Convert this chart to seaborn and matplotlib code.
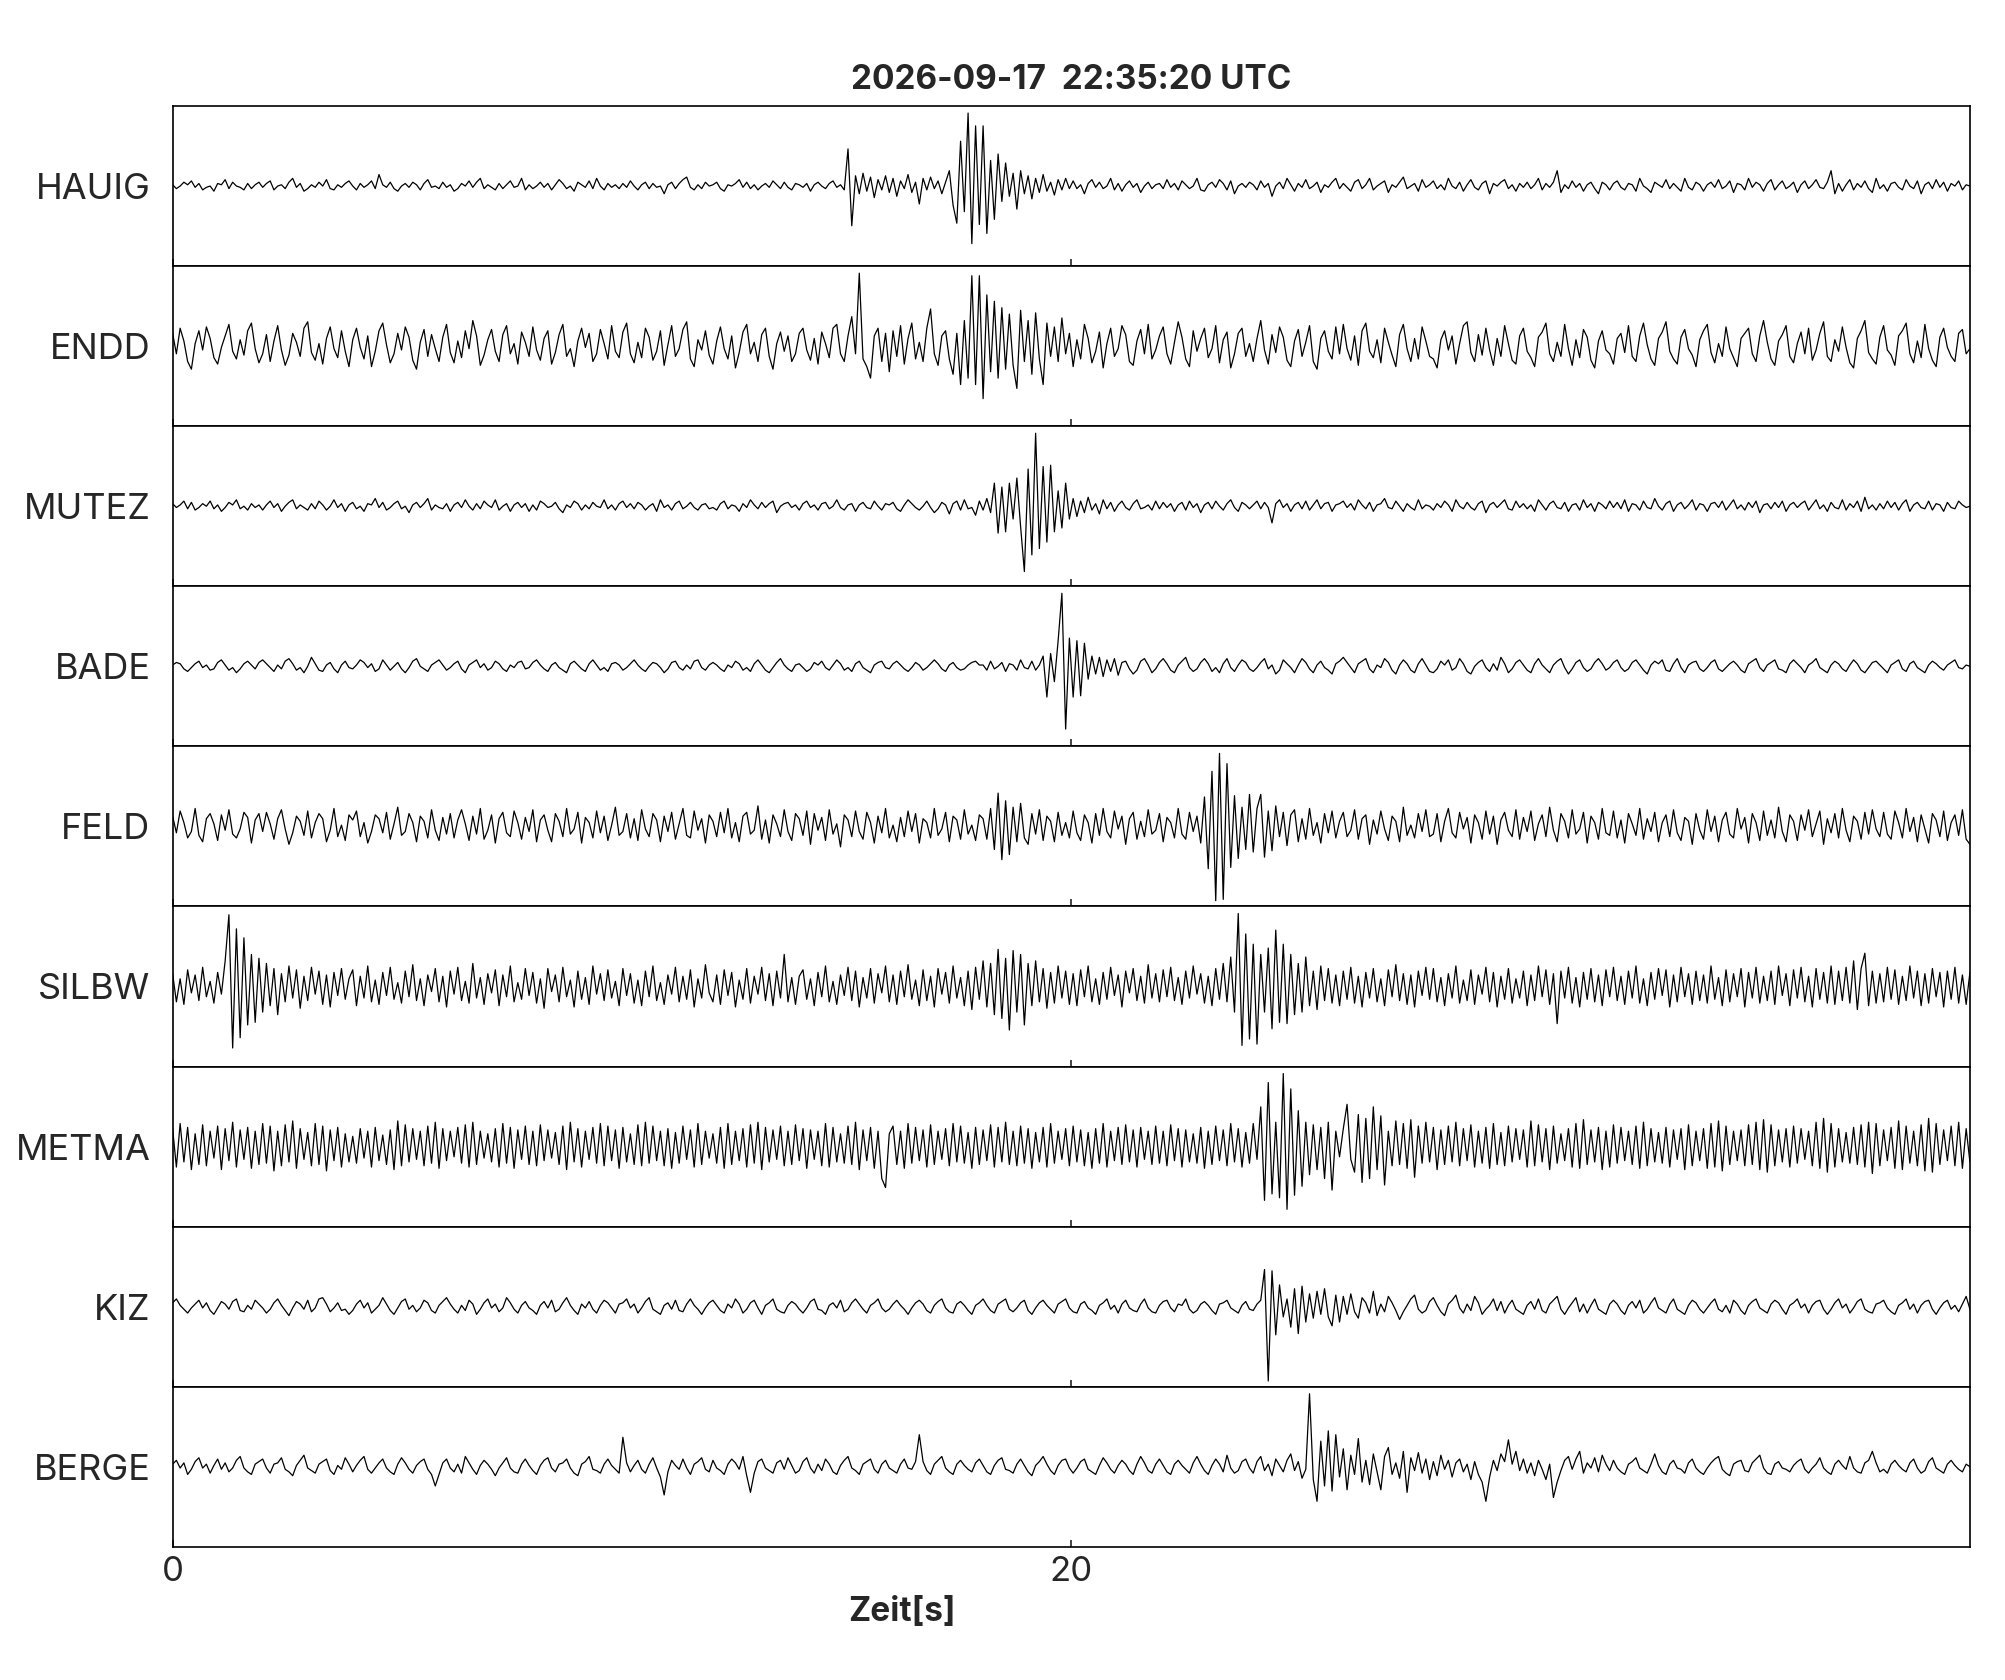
import numpy as np
import pandas as pd
import matplotlib
matplotlib.use("Agg")
import matplotlib.pyplot as plt
import seaborn as sns

# Stationen von oben nach unten
stations = ["HAUIG", "ENDD", "MUTEZ", "BADE", "FELD", "SILBW", "METMA", "KIZ", "BERGE"]
title_txt = "2026-09-17  22:35:20 UTC"
t_end = 40.0
xtick_vals = [0, 20]

# Amplituden (Pixel relativ zur Nulllinie, 12 Werte/s, eine Zeile = 2 s)
hauig = [
    1,-2,0,3,1,4,-1,2,-3,-1,0,-4,2,1,5,-2,3,0,-1,-3,2,-2,1,3,
    -1,2,4,-3,0,1,-2,3,6,-1,2,-4,-2,1,-1,3,0,5,-2,-3,1,-1,2,4,
    0,-3,2,-1,1,4,-2,9,1,-1,3,-2,-4,0,2,-1,3,1,-3,2,5,-1,0,-2,
    3,-1,1,-4,-2,2,0,4,-1,3,6,-2,1,-1,-3,2,-2,1,4,-1,0,6,-3,1,
    -2,0,3,-1,2,-3,1,5,2,-2,0,-4,3,1,-1,4,-2,6,0,-3,2,-1,1,-2,
    2,-1,4,0,-3,1,3,-2,2,-1,0,-6,1,3,-2,2,5,7,-1,-3,1,-2,3,0,
    1,3,-2,-4,1,0,2,5,-1,3,-2,1,-3,0,2,-1,4,1,-2,3,-1,-3,2,1,
    -1,2,-4,1,3,0,-2,2,4,-1,1,-3,29,-31,8,-6,10,-4,7,-9,5,-3,8,-5,
    6,-8,4,-2,9,-5,3,-14,6,-3,7,-2,4,-6,3,12,-15,-29,35,-20,57,-45,47,-30,
    47,-37,20,-26,25,-12,18,-8,10,-18,12,-6,8,-10,6,-5,9,-4,3,-7,5,-3,6,-2,
    4,-2,1,-6,2,5,-1,3,-2,0,6,-3,2,-4,1,4,-1,2,-5,0,3,-2,1,2,
    -2,5,-1,2,-3,4,1,-2,0,6,-3,-4,1,3,-1,5,2,-3,4,-6,0,2,-1,3,
    1,-3,4,-1,2,-8,0,3,-2,6,1,-4,2,-1,5,-2,0,3,-5,1,-1,3,6,-2,
    2,-1,-4,3,5,-2,1,6,-3,0,2,4,-5,1,-1,3,7,-2,0,2,-4,5,-1,1,
    4,-2,1,-3,6,0,-2,3,-4,1,5,-1,-3,2,4,-6,2,0,3,5,-2,1,-4,2,
    -1,3,-2,1,6,-3,2,-1,3,12,-5,1,-2,4,-1,2,-4,1,3,-2,-6,3,1,-3,
    2,4,-1,-3,2,1,-4,6,0,-2,-5,3,1,-1,5,-2,2,-1,-4,6,-1,-3,3,1,
    -4,1,3,-1,5,-2,0,4,-5,2,1,-3,6,-1,3,1,-4,2,5,-3,1,4,-2,0,
    3,-5,1,4,-2,1,5,-1,-2,3,12,-6,2,-4,1,5,-3,2,-1,4,-2,-5,6,-2,
    1,-4,2,3,-1,-3,5,0,-2,4,-6,1,3,-2,5,-1,3,-4,2,0,4,-3,1,0,
]
endd = [
    10,-6,14,4,-12,-18,2,12,-3,15,6,-9,-14,-1,8,17,-4,-10,5,-7,12,18,-2,-13,
    -6,9,-12,4,16,-3,-15,-7,10,3,-8,14,19,-5,-11,2,-14,6,15,-2,-9,12,-4,-16,
    5,14,-1,-10,8,-16,-4,12,18,1,-13,-6,10,-3,15,7,-11,-18,3,13,-8,9,-2,-12,
    7,17,-5,-13,4,-9,12,-2,20,8,-15,-7,5,13,-4,-12,9,16,-6,2,-14,11,3,-8,
    15,-3,-11,6,12,-14,-5,9,17,-8,-2,-16,4,14,-1,10,-12,-6,13,2,-10,16,-4,-9,
    11,18,-6,-13,3,-9,14,7,-11,-4,12,-15,1,16,-8,-2,13,19,-10,-16,5,-3,12,-7,
    -14,4,15,-2,-10,8,-17,-5,11,17,-6,3,-12,9,14,-8,-18,2,11,-4,8,-12,-6,10,
    14,-3,-11,6,-14,11,2,-9,14,17,-6,-12,8,23,-6,57,-10,-16,-25,8,14,-12,10,-20,
    12,-8,16,-14,6,18,-10,3,-12,14,29,-6,-15,8,12,-10,-22,10,-30,20,-25,55,-30,55,
    -41,40,-20,35,-25,30,-18,25,-15,-33,28,-12,20,-22,26,-10,-30,18,-8,15,-12,22,-6,10,
    -16,5,-10,17,6,-13,-4,11,-17,2,14,-8,-2,16,9,-12,-15,4,13,-6,17,-10,-3,8,
    15,-6,-14,3,19,7,-10,-16,12,-4,6,14,-9,-2,16,-13,5,11,-17,-6,10,14,-8,2,
    -12,6,20,-3,-14,9,-5,15,7,-11,-16,4,13,-8,3,16,-12,-18,6,12,-4,-10,15,-6,
    17,-2,-11,8,-15,12,18,-4,-9,5,-13,14,3,-7,-16,9,17,-2,-12,6,-10,15,4,-8,
    -10,-17,5,12,-3,8,-14,2,16,19,-5,-12,9,-7,14,-3,-15,6,-8,16,2,-11,-14,8,
    14,-4,-9,-16,7,11,18,-6,-12,3,-8,17,-2,-15,5,-9,13,7,-11,-17,4,12,-3,-6,
    -14,6,10,-5,16,-8,-12,8,18,1,-10,-15,6,11,19,-4,-10,-14,7,13,-2,-7,-16,5,
    12,17,-5,-13,2,-8,15,-2,-9,-16,6,10,14,-6,-12,8,20,3,-10,-15,4,9,16,-8,
    -13,2,11,-6,14,-11,-3,10,19,-8,-12,5,-4,15,-1,-13,-17,6,12,20,-5,-10,-14,7,
    16,-3,-7,-15,8,12,18,-6,-13,4,-9,17,-2,-11,-16,7,14,-1,-8,-12,10,13,-6,-2,
]
mutez = [
    2,-1,1,4,-2,3,-3,-1,2,0,4,-2,1,-4,-1,3,1,5,-2,0,-3,2,-1,1,
    -3,1,4,-1,2,-4,0,3,5,-2,1,-1,-3,2,-2,4,1,-3,0,5,-1,2,-4,1,
    3,-2,0,-4,2,1,6,-1,3,-3,-1,2,4,-2,0,-5,1,3,-1,2,6,-3,1,-1,
    -2,2,-4,1,3,-1,5,0,-3,2,-2,4,1,-1,5,-3,0,2,-4,1,3,-1,2,-4,
    1,-3,4,2,-1,0,3,-2,-5,1,-1,4,2,-3,1,-2,3,0,-1,5,-2,1,-3,2,
    4,-1,2,-2,3,1,-3,0,2,-4,5,-1,1,-3,2,4,-2,0,3,-1,-3,1,2,-2,
    -1,-3,2,4,-2,1,0,-4,2,-1,5,1,-2,3,-1,2,4,-5,0,2,3,-1,1,-3,
    2,4,-1,1,-3,2,3,-2,0,5,-1,-3,1,2,-4,1,3,-1,-2,4,0,-3,2,1,
    3,-2,-4,1,5,2,-1,-3,0,4,-1,-5,-2,3,1,-6,2,4,-3,5,-2,-1,-7,4,
    -3,6,-5,18,-21,15,-20,18,-10,22,-16,-51,29,-38,57,-33,31,-28,32,-20,12,-17,18,-10,
    6,-8,4,-5,7,-3,2,-6,5,-2,3,-4,1,4,-1,-3,2,5,-2,-1,1,-3,4,-2,
    3,-1,2,-4,1,3,-3,4,-1,2,-5,1,3,-2,4,0,-3,2,5,-1,-4,3,1,-2,
    1,4,-2,3,-1,-13,2,5,-1,2,-4,1,3,-2,4,-3,1,5,-2,2,3,-4,1,2,
    4,-1,2,-3,5,1,-2,3,-4,1,2,6,-1,-2,4,0,-4,2,-1,-3,5,-2,1,0,
    -3,2,-1,4,1,-4,5,0,-2,3,-1,-3,2,4,-5,1,3,-1,2,5,-2,-3,4,-1,
    2,-2,1,-4,5,1,-3,2,4,-1,-2,3,-4,1,2,-3,5,-1,2,-4,3,1,-2,4,
    -1,3,-2,5,-4,2,1,-3,4,-1,-2,6,0,-3,2,4,-4,1,3,-2,1,5,-3,2,
    1,-4,2,3,-1,4,-3,1,5,-2,1,-3,3,-1,4,-5,1,2,-2,3,-1,4,-4,1,
    3,-1,2,4,-3,1,5,-2,1,-4,3,-1,-2,5,-3,2,-1,4,-4,7,-2,1,-3,2,
    -2,4,-1,3,-3,2,5,-4,1,3,-1,-2,4,-3,2,1,-4,3,-1,-2,4,1,-1,0,
]
bade = [
    1,3,2,-2,-4,-1,2,4,-1,1,-3,-2,3,5,1,-3,-1,-5,-2,2,4,1,-2,3,
    5,2,-1,-4,1,-2,4,6,2,-3,-1,-5,0,7,2,-3,-4,1,3,-2,-5,1,4,-1,
    -2,1,5,3,-1,2,-4,-2,5,1,-3,0,3,-2,-5,-1,4,6,0,-2,-4,1,3,5,
    1,-3,-1,2,4,-2,-5,1,3,5,-1,2,-3,-1,4,2,-2,-4,1,-1,3,4,-2,-1,
    3,5,1,-2,-4,1,3,-1,-3,-5,2,4,1,-2,-4,2,5,1,-3,-1,-4,2,3,1,
    -3,-1,2,5,1,-2,-4,0,3,2,-1,-5,-2,3,4,-1,-3,1,-2,4,5,-1,-3,1,
    3,1,-2,-4,1,-1,4,2,-3,-1,-4,2,5,1,-3,-5,-1,3,6,1,-2,-4,1,2,
    -1,-4,-2,3,1,4,-1,-3,1,5,2,-3,-1,-4,2,4,-1,-3,-5,1,3,4,-1,-2,
    2,4,1,-2,-4,-1,3,1,-3,-1,2,5,2,-2,-4,1,3,-1,-3,-2,1,3,4,1,
    1,-3,4,-2,0,3,-4,2,1,-3,5,-1,-2,4,-3,1,8,-24,10,-12,20,57,-49,22,
    -24,20,-23,18,-10,8,-6,7,-8,5,-4,6,-7,3,4,-2,-6,-3,4,6,1,-5,-2,3,
    6,2,-3,-5,1,4,7,-1,-4,-2,3,6,2,-4,-1,-5,2,6,-1,-4,1,5,3,-2,
    -4,-1,3,6,-2,1,-6,-3,5,2,-1,-5,1,6,3,-2,-5,1,4,-1,-3,-6,2,4,
    7,3,-1,-5,2,4,6,-2,-5,1,-1,6,3,-3,-6,1,5,2,-3,-5,2,6,1,-4,
    -5,-2,4,1,5,-3,-1,6,2,-4,-6,0,3,5,-1,-4,2,-3,7,2,-5,-2,3,5,
    1,-3,-5,2,6,1,-2,-5,1,4,6,-1,-6,-2,3,5,-1,-4,-2,3,6,2,-3,-1,
    3,5,-1,-4,-2,3,5,1,-3,-6,1,4,2,5,-3,-4,2,6,-1,-5,1,3,4,-2,
    -4,-1,3,5,-2,-4,-1,2,4,1,-3,-5,2,4,6,-1,-4,1,3,5,-2,-3,-5,2,
    5,2,-1,-5,1,3,6,-1,-3,-5,1,4,2,-2,-4,1,5,2,-3,-5,-1,3,4,1,
    -2,-5,1,3,5,-2,-4,2,4,-1,-3,-5,1,4,2,-1,-3,1,3,5,-1,-2,1,0,
]
feld = [
    8,-5,12,3,-9,-4,14,-7,-12,6,10,2,-11,9,-3,13,-6,-9,-2,11,7,-13,5,10,
    -4,11,2,-10,6,13,-2,-14,-5,8,4,-7,12,-9,3,10,6,-12,-3,14,-8,1,-11,9,
    5,12,-8,3,-13,-4,9,6,-5,11,-10,2,15,-7,-4,10,3,-12,8,4,-9,13,-3,-11,
    7,-6,10,-9,5,13,2,-11,8,-6,14,-10,-3,9,-13,6,11,-5,-8,12,3,-10,7,-4,
    13,-12,5,9,-3,-12,10,4,-8,14,-6,-2,11,-13,7,3,-9,12,-5,8,-11,1,15,-7,
    -4,10,-9,6,-11,13,-2,-8,10,5,-12,8,-4,11,-10,2,14,-7,-9,12,-3,6,-13,9,
    4,-8,11,-5,14,-9,3,-12,8,11,-6,-3,16,-10,5,-13,9,2,-8,13,-4,-11,10,6,
    -7,12,-14,10,-3,7,-11,13,-6,2,-16,9,5,-8,12,-4,-10,11,3,-13,8,-5,14,-9,
    1,-12,7,-8,12,-4,10,-13,6,3,-9,14,-7,-2,11,-12,8,5,-10,13,-6,1,-11,9,
    6,-10,14,-18,26,-26,20,-22,15,-12,18,-9,-14,10,-6,13,-11,8,4,-12,11,-7,3,-9,
    12,-5,-11,9,3,-13,10,-7,14,-4,-9,12,-2,8,-14,6,11,-10,4,-8,13,-6,-3,10,
    -12,7,3,-9,14,-6,-10,11,-4,8,-13,23,-33,43,-58,57,-57,49,-32,24,-25,15,-18,25,
    -20,14,25,-24,12,-19,16,-8,11,-15,9,13,-12,6,-10,14,-7,3,-13,10,-5,12,-9,4,
    11,-8,-3,13,-10,6,9,-14,5,-6,12,-2,-11,8,4,-12,15,-7,1,-9,10,-4,13,-8,
    -6,10,-12,4,14,-5,-9,11,-2,7,-13,9,3,-10,12,-6,8,-14,5,11,-3,-8,13,-10,
    7,-4,12,-11,2,9,-8,15,-3,-12,10,4,-9,13,-6,-2,11,-13,8,3,-10,14,-5,-7,
    12,-9,5,-13,10,2,-7,14,-10,6,-4,11,-12,3,9,-8,13,-5,-11,7,4,-14,10,-3,
    -10,13,-4,8,-12,5,11,-6,-9,14,-2,7,-13,10,3,-11,12,-7,5,-9,15,-4,-12,9,
    4,-11,9,-3,13,-8,2,12,-14,6,-5,10,-9,14,-3,-12,8,4,-10,11,-6,13,-2,-8,
    11,-6,-10,12,3,-9,14,-4,7,-12,9,-2,-13,10,5,-8,12,-11,3,9,-7,13,-10,-14,
]
silbw = [
    10,-12,6,-14,13,-5,9,-11,15,-8,4,-13,11,-6,20,56,-48,45,-40,38,-30,25,-28,22,
    -20,18,-15,14,-22,10,-12,16,-9,13,-17,8,-11,15,-6,12,-14,9,-16,11,-7,14,-10,6,
    13,-15,8,-9,16,-12,5,-14,11,-7,15,-10,3,-13,12,-8,17,-11,6,-15,9,-4,14,-12,
    8,-16,12,-6,15,-11,4,-13,18,-9,7,-14,10,-5,13,-15,9,-8,16,-12,3,-10,14,-7,
    11,-13,6,-17,14,-4,9,-12,15,-8,5,-16,12,-10,7,-14,16,-6,10,-11,13,-9,4,-15,
    14,-7,10,-13,5,-15,12,-8,16,-11,3,-14,9,-6,15,-12,8,-10,13,-16,6,-9,17,-5,
    -12,9,-14,13,-7,11,-16,5,-10,14,-13,8,-6,15,-11,10,-15,12,-9,25,-12,7,-14,8,
    13,-10,6,-15,11,-8,16,-12,4,-14,9,-7,15,-11,12,-16,7,-9,14,-13,10,-5,16,-12,
    9,-14,12,-8,17,-10,5,-15,13,-11,8,-16,14,-6,11,-13,16,-9,7,-15,12,-18,15,-10,
    20,-16,18,-22,29,-25,22,-34,28,-20,25,-30,18,-15,20,-12,14,-17,11,-13,16,-9,12,-14,
    10,-15,13,-8,16,-12,6,-14,11,-10,15,-7,9,-16,12,-5,14,-11,8,-13,17,-9,10,-12,
    13,-8,15,-11,7,-14,12,-9,16,-6,10,-13,8,-15,14,-10,18,-12,23,-20,57,-46,41,-41,
    33,-45,25,-20,30,-33,44,-28,33,-29,25,-22,18,-20,23,-15,12,-18,16,-11,14,-13,9,-15,
    12,-10,15,-13,8,-16,11,-9,14,-12,6,-15,13,-8,17,-11,10,-14,9,-16,12,-7,15,-10,
    14,-12,7,-15,10,-9,16,-13,5,-11,13,-14,9,-6,15,-12,11,-16,8,-10,14,-13,6,-9,
    12,-15,9,-11,16,-8,13,-14,10,-29,12,-9,15,-13,7,-16,11,-10,14,-12,9,-15,13,-8,
    15,-11,8,-14,12,-9,16,-13,6,-15,11,-10,14,-7,13,-16,9,-12,15,-8,10,-14,12,-11,
    9,-13,16,-10,7,-15,13,-12,10,-8,14,-16,11,-9,15,-13,8,-11,12,-14,16,-7,10,-15,
    13,-9,15,-12,8,-16,14,-10,11,-13,16,-14,12,-11,15,-13,20,-18,14,26,-15,12,-13,10,
    -12,15,-10,13,-14,8,-11,16,-9,12,-15,10,-13,14,-8,11,-16,12,-10,15,-13,9,-14,11,
]
metma = [
    14,-16,18,-12,15,-18,10,-14,17,-15,12,-9,16,-18,14,-11,19,-16,13,-10,15,-17,12,-14,
    18,-13,16,-19,12,-15,17,-12,20,-17,14,-10,11,-15,18,-14,16,-19,13,-11,15,-16,10,-12,
    8,-13,14,-9,12,-16,15,-11,9,-14,13,-18,20,-15,17,-12,14,-10,12,-15,16,-13,19,-17,
    14,-11,12,-8,15,-13,17,-16,19,-14,12,-9,10,-12,14,-16,18,-13,15,-17,13,-10,16,-14,
    12,-15,17,-11,13,-9,11,-14,16,-18,19,-12,14,-16,12,-10,15,-13,18,-15,16,-11,13,-17,
    15,-12,10,-14,17,-15,19,-13,16,-11,12,-15,14,-17,11,-13,16,-10,13,-16,18,-14,12,-9,
    10,-13,15,-17,18,-14,12,-11,14,-16,17,-13,19,-18,15,-12,13,-10,16,-15,12,-14,17,-11,
    14,-17,13,-10,12,-15,18,-16,15,-12,10,-13,16,-14,19,-18,13,-11,15,-17,12,-25,-32,10,
    16,-14,12,-17,18,-13,15,-11,13,-16,17,-14,12,-10,14,-15,18,-12,16,-13,11,-17,15,-14,
    13,-11,17,-16,15,-12,19,-14,12,-15,16,-13,14,-17,11,-12,15,-16,18,-13,12,-10,14,-15,
    16,-12,13,-15,11,-17,14,-13,18,-16,12,-11,15,-14,17,-12,13,-16,15,-10,12,-14,16,-13,
    12,-15,17,-11,14,-16,13,-12,10,-13,15,-17,12,-14,16,-11,13,-15,18,-12,14,-16,11,-13,
    18,-10,31,-42,50,-37,19,-40,57,-49,45,-38,28,-31,19,-22,17,-18,15,-25,19,-34,12,-8,
    14,33,-10,-20,25,-28,22,-25,31,-18,24,-30,12,-15,20,-14,18,-17,21,-24,16,-13,19,-12,
    15,-18,13,-14,16,-12,19,-15,14,-11,17,-16,12,-13,15,-17,18,-14,11,-15,16,-12,14,-10,
    13,-16,20,-15,17,-12,14,-18,16,-13,10,-11,14,-16,18,-17,21,-14,13,-12,15,-18,12,-16,
    17,-13,15,-11,12,-14,16,-17,19,-15,14,-12,11,-13,15,-16,13,-10,14,-18,17,-15,12,-11,
    14,-17,18,-16,20,-19,16,-14,12,-11,13,-15,17,-14,19,-18,21,-20,17,-15,13,-12,14,-16,
    16,-13,14,-10,12,-15,19,-17,22,-20,18,-16,14,-12,11,-13,15,-14,17,-16,19,-21,18,-15,
    13,-11,15,-17,20,-18,16,-13,12,-15,17,-19,22,-20,18,-14,13,-11,16,-15,19,-17,14,-12,
]
kiz = [
    3,6,1,-2,-5,-1,2,5,-1,3,-3,-6,-1,4,2,-2,4,6,-3,-4,1,-2,5,2,
    -1,-5,-2,3,6,1,-3,-7,-1,4,2,-2,5,-4,-1,6,7,2,-4,-1,3,-3,-2,-6,
    -3,2,5,-1,3,-5,-2,1,7,2,-3,-6,-1,4,6,-2,1,-4,-1,5,3,-3,-5,1,
    4,7,2,-2,-5,1,-3,5,2,-6,-2,3,6,-1,2,-4,-1,7,3,-2,-5,1,4,-1,
    -3,-6,1,4,-1,5,-4,-2,3,7,1,-3,-6,2,-1,4,-2,-5,1,5,3,-1,-5,2,
    3,6,-1,2,-5,-1,4,7,-2,-4,-6,1,3,-2,5,-3,-4,2,6,1,-2,-6,-1,3,
    5,1,-3,-5,2,-1,6,2,-5,-2,3,5,-1,-6,1,3,6,-2,-4,-5,1,4,2,-2,
    -5,-1,4,6,-2,-3,-6,1,3,-1,5,-4,-2,3,6,2,-2,-5,1,3,6,-1,-4,-2,
    2,5,1,-2,-6,-1,3,5,2,-3,-5,1,4,6,-1,-4,-5,2,4,1,-3,-6,1,3,
    6,1,-3,-5,2,4,6,-2,-4,-1,3,5,-3,-6,-1,3,5,1,-2,-5,2,4,6,-1,
    -4,-5,2,4,-1,-3,-6,1,3,6,-2,1,-5,2,5,-1,-3,-4,2,6,-1,-4,-5,1,
    4,5,-1,-4,2,1,6,-2,-5,-3,2,4,1,-3,-6,2,3,5,-1,-3,-5,1,4,-2,
    -3,2,5,29,-58,28,-22,17,-8,6,-16,14,-21,16,-12,10,-9,12,-6,14,-8,-15,9,-12,
    8,-6,10,-4,-9,7,3,-5,12,-7,2,-4,8,3,-3,-10,-4,1,6,9,-2,-5,-3,4,
    7,1,-4,-7,2,5,9,-1,-5,2,-3,8,3,-6,-2,1,6,-3,4,-5,1,5,-2,-4,
    -6,1,4,-2,6,-3,-5,2,5,8,-2,-6,-1,3,7,-4,2,-5,1,6,-2,-4,-6,2,
    5,2,-3,-6,1,4,-1,5,-5,-2,3,7,-1,-3,-5,2,6,-2,-4,-6,1,5,3,-2,
    -5,-1,3,6,-2,-4,1,-5,5,2,-3,-6,1,4,6,-1,-3,-5,2,5,3,-2,-6,1,
    3,6,-1,2,-5,1,4,5,-2,-6,-2,3,6,-1,2,-5,-1,4,6,-2,-4,-5,2,3,
    5,-1,-4,-6,1,3,6,-2,2,-5,1,4,5,-2,-6,-1,3,5,-2,1,-4,2,8,-2,
]
berge = [
    2,5,-1,3,-6,-2,4,7,-1,2,-5,1,6,-2,3,-4,-1,5,8,-1,-4,-6,2,4,
    6,-1,-5,2,3,7,-2,-4,-7,1,5,9,-1,-3,-5,2,4,6,-3,-6,1,-2,7,2,
    -4,1,5,8,-2,-5,-1,3,6,-1,-4,-6,2,7,3,-2,-5,1,4,6,-2,-6,-15,-6,
    3,6,-1,-4,2,-5,8,3,-2,-6,1,5,2,-2,-7,-1,3,7,-1,-4,-5,2,6,1,
    -3,-6,1,5,7,-1,-4,2,3,6,-1,-5,-7,2,4,8,-2,-3,-5,2,6,1,-2,-5,
    23,3,-4,1,5,-2,-5,2,7,-1,-8,-22,-4,5,1,-2,6,-1,-6,2,4,7,-2,-4,
    5,-1,-3,-6,2,6,3,-2,8,-7,-20,-5,4,6,-1,-3,-5,3,5,-2,7,1,-5,-3,
    4,7,-1,-5,2,-3,6,2,-4,-6,1,5,8,-1,-3,-6,2,4,6,-2,-5,2,5,-1,
    -3,-5,2,6,-1,-2,4,25,4,-3,-6,2,5,8,-1,-4,-6,2,5,1,-2,-4,3,6,
    1,-4,-6,1,5,7,-2,-3,-5,2,6,1,-4,-7,1,4,8,2,-3,-6,1,5,6,-1,
    -5,-1,4,6,-2,-4,-6,1,7,3,-2,-5,1,5,2,-3,-6,2,8,3,-3,-5,2,6,
    1,-4,-6,2,5,1,-2,-5,3,8,2,-3,-6,1,6,2,-4,9,-1,-5,-3,4,6,-1,
    -5,4,8,-3,2,-7,6,1,-4,5,10,-3,4,-9,-2,57,-10,-27,20,-15,28,-19,25,-8,
    14,-18,9,-6,22,-12,5,-14,10,-4,-18,8,15,-6,3,-9,12,-20,7,-3,11,-5,6,-10,
    4,-7,9,-2,5,-8,3,6,-4,2,-10,4,-6,-12,-27,-8,5,-3,10,4,21,2,12,-3,
    6,-5,3,-7,5,-2,-10,2,-24,-12,-3,5,8,-2,6,12,-5,3,-1,7,-4,9,2,-3,
    5,-1,-4,-6,2,4,7,-1,-3,-5,2,10,1,-4,-6,2,5,-1,-2,-5,3,6,-1,-4,
    -6,-1,3,6,8,-2,-5,-7,2,4,5,-3,-4,3,6,9,-1,-5,-6,2,4,-1,-2,-4,
    1,4,6,-2,-5,-1,2,7,-1,-4,-6,2,5,1,-2,8,-1,-4,-5,3,5,12,3,-4,
    -2,-5,2,5,1,-2,-4,3,6,-1,-5,-3,4,7,-1,-3,-5,2,5,1,-2,-4,2,0,
]

traces = [hauig, endd, mutez, bade, feld, silbw, metma, kiz, berge]

frames = []
for name, vals in zip(stations, traces):
    frames.append(pd.DataFrame({
        "station": name,
        "zeit": np.linspace(0, t_end, len(vals)),
        "amp": vals,
    }))
df = pd.concat(frames, ignore_index=True)

sns.set_style("white")
plt.rcParams["font.family"] = ["Inter", "DejaVu Sans"]

fig, axes = plt.subplots(len(stations), 1, sharex=True, figsize=(20.05, 16.8), dpi=100)
fig.subplots_adjust(left=0.0861, right=0.9825, top=0.9369, bottom=0.0793, hspace=0)

for ax, name in zip(axes, stations):
    sub = df[df["station"] == name]
    sns.lineplot(data=sub, x="zeit", y="amp", ax=ax, color="black",
                 linewidth=0.9, estimator=None, sort=False)
    ax.set_xlim(0, t_end)
    ax.set_ylim(-62.5, 62.5)
    ax.set_yticks([0])
    ax.set_yticklabels([name])
    ax.set_ylabel("")
    ax.set_xlabel("")
    ax.tick_params(axis="y", length=0, pad=16, labelsize=26)
    ax.set_xticks(xtick_vals)
    ax.tick_params(axis="x", direction="in", length=5, width=1.2,
                   labelsize=25, pad=7, bottom=True, top=False)
    for sp in ax.spines.values():
        sp.set_linewidth(1.2)
        sp.set_color("black")

axes[0].set_title(title_txt, fontsize=24, fontweight="bold", pad=12)
axes[-1].set_xlabel("Zeit[s]", fontsize=24, fontweight="bold")
axes[-1].xaxis.set_label_coords(0.406, -0.31)

fig.savefig("out.png", dpi=100)
